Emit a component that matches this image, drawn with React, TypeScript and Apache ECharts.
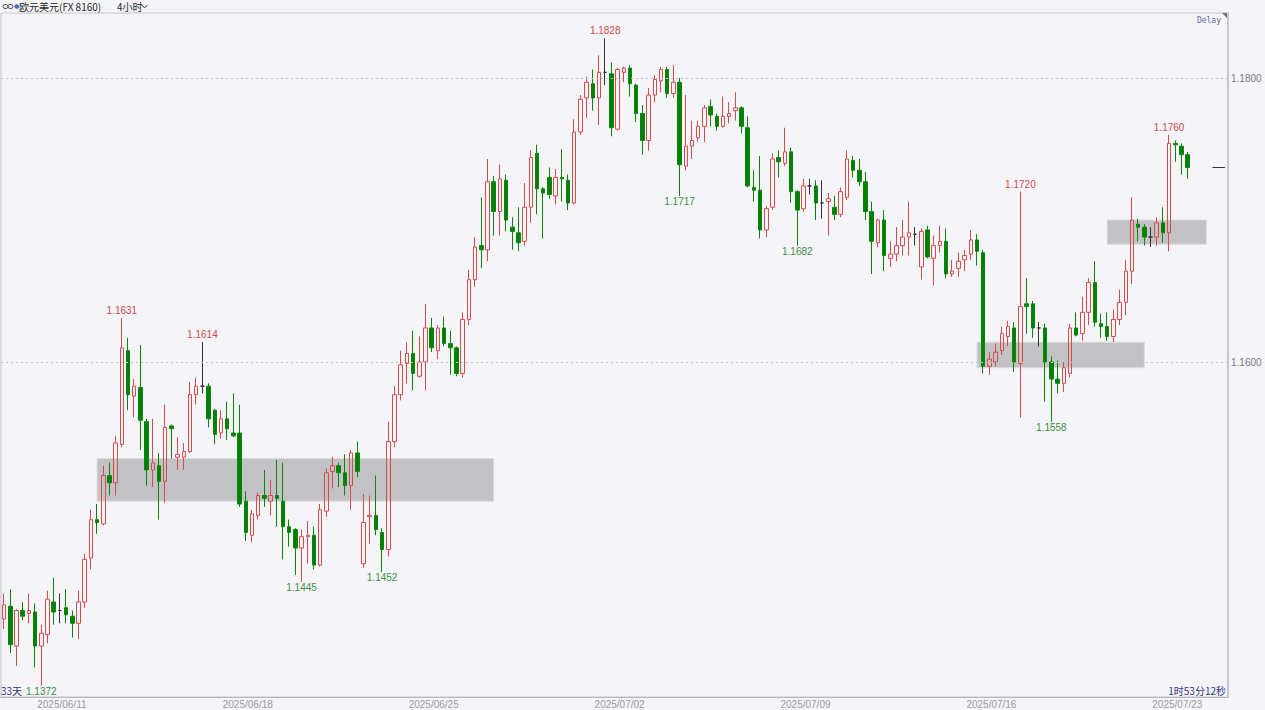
import React, { useEffect, useRef } from 'react';
import * as echarts from 'echarts';

// ---- OHLC values (EUR/USD, 4-hour bars) ----
const opens = [
  1.1419, 1.1428, 1.1400, 1.1425, 1.1423, 1.1424, 1.1400, 1.1408, 1.1431, 1.1425, 1.1427, 1.1421,
  1.1416, 1.1431, 1.1462, 1.1489, 1.1486, 1.1520, 1.1515, 1.1542, 1.1608, 1.1576, 1.1582, 1.1558,
  1.1524, 1.1527, 1.1516, 1.1555, 1.1533, 1.1533, 1.1537, 1.1577, 1.1583, 1.1583, 1.1566, 1.1550,
  1.1560, 1.1550, 1.1550, 1.1502, 1.1478, 1.1492, 1.1506, 1.1502, 1.1506, 1.1502, 1.1484, 1.1482,
  1.1469, 1.1477, 1.1478, 1.1457, 1.1495, 1.1523, 1.1527, 1.1522, 1.1513, 1.1536, 1.1458, 1.1491,
  1.1492, 1.1480, 1.1468, 1.1544, 1.1577, 1.1599, 1.1606, 1.1590, 1.1600, 1.1624, 1.1608, 1.1624,
  1.1613, 1.1610, 1.1592, 1.1630, 1.1658, 1.1682, 1.1679, 1.1727, 1.1706, 1.1728, 1.1695, 1.1691,
  1.1685, 1.1709, 1.1747, 1.1722, 1.1730, 1.1717, 1.1730, 1.1728, 1.1712, 1.1762, 1.1786, 1.1796,
  1.1786, 1.1804, 1.1803, 1.1764, 1.1804, 1.1807, 1.1795, 1.1775, 1.1756, 1.1788, 1.1798, 1.1806,
  1.1789, 1.1797, 1.1738, 1.1752, 1.1758, 1.1766, 1.1780, 1.1773, 1.1766, 1.1773, 1.1777, 1.1779,
  1.1765, 1.1723, 1.1721, 1.1693, 1.1709, 1.1744, 1.1740, 1.1748, 1.1720, 1.1708, 1.1724, 1.1724,
  1.1712, 1.1713, 1.1709, 1.1704, 1.1716, 1.1742, 1.1735, 1.1727, 1.1706, 1.1684, 1.1700, 1.1673,
  1.1676, 1.1682, 1.1688, 1.1690, 1.1667, 1.1693, 1.1673, 1.1682, 1.1685, 1.1662, 1.1666, 1.1672,
  1.1676, 1.1686, 1.1677, 1.1597, 1.1600, 1.1608, 1.1618, 1.1624, 1.1599, 1.1641, 1.1641, 1.1624,
  1.1624, 1.1600, 1.1588, 1.1585, 1.1592, 1.1624, 1.1620, 1.1635, 1.1656, 1.1627, 1.1625, 1.1618,
  1.1630, 1.1642, 1.1664, 1.1697, 1.1695, 1.1688, 1.1688, 1.1698, 1.1691, 1.1754, 1.1752, 1.1746,
];
const highs = [
  1.1437, 1.1440, 1.1426, 1.1431, 1.1437, 1.1430, 1.1415, 1.1439, 1.1448, 1.1437, 1.1440, 1.1425,
  1.1439, 1.1465, 1.1496, 1.1500, 1.1527, 1.1529, 1.1548, 1.1631, 1.1617, 1.1588, 1.1612, 1.1560,
  1.1560, 1.1536, 1.1570, 1.1556, 1.1547, 1.1543, 1.1586, 1.1589, 1.1614, 1.1585, 1.1567, 1.1566,
  1.1572, 1.1578, 1.1570, 1.1509, 1.1496, 1.1508, 1.1524, 1.1517, 1.1531, 1.1529, 1.1489, 1.1483,
  1.1482, 1.1488, 1.1484, 1.1500, 1.1525, 1.1533, 1.1529, 1.1535, 1.1538, 1.1544, 1.1507, 1.1506,
  1.1520, 1.1483, 1.1558, 1.1583, 1.1608, 1.1614, 1.1622, 1.1618, 1.1641, 1.1631, 1.1626, 1.1632,
  1.1622, 1.1611, 1.1635, 1.1665, 1.1688, 1.1716, 1.1743, 1.1731, 1.1739, 1.1732, 1.1702, 1.1709,
  1.1726, 1.1749, 1.1753, 1.1723, 1.1737, 1.1736, 1.1750, 1.1732, 1.1771, 1.1788, 1.1801, 1.1806,
  1.1816, 1.1828, 1.1811, 1.1807, 1.1808, 1.1809, 1.1796, 1.1781, 1.1793, 1.1802, 1.1808, 1.1808,
  1.1809, 1.1800, 1.1788, 1.1770, 1.1770, 1.1781, 1.1785, 1.1775, 1.1787, 1.1783, 1.1790, 1.1780,
  1.1773, 1.1735, 1.1745, 1.1710, 1.1747, 1.1749, 1.1765, 1.1751, 1.1721, 1.1729, 1.1729, 1.1728,
  1.1728, 1.1719, 1.1717, 1.1723, 1.1749, 1.1745, 1.1743, 1.1734, 1.1713, 1.1701, 1.1707, 1.1685,
  1.1695, 1.1700, 1.1713, 1.1695, 1.1694, 1.1696, 1.1689, 1.1696, 1.1694, 1.1672, 1.1677, 1.1679,
  1.1693, 1.1690, 1.1679, 1.1607, 1.1613, 1.1625, 1.1629, 1.1628, 1.1720, 1.1659, 1.1643, 1.1628,
  1.1627, 1.1604, 1.1601, 1.1600, 1.1627, 1.1635, 1.1646, 1.1659, 1.1671, 1.1634, 1.1635, 1.1637,
  1.1651, 1.1672, 1.1716, 1.1701, 1.1697, 1.1695, 1.1702, 1.1709, 1.1760, 1.1756, 1.1754, 1.1748,
];
const lows = [
  1.1412, 1.1395, 1.1386, 1.1418, 1.1416, 1.1385, 1.1372, 1.1402, 1.1415, 1.1416, 1.1416, 1.1406,
  1.1405, 1.1427, 1.1454, 1.1479, 1.1485, 1.1506, 1.1506, 1.1540, 1.1566, 1.1561, 1.1538, 1.1513,
  1.1512, 1.1489, 1.1501, 1.1532, 1.1524, 1.1524, 1.1536, 1.1570, 1.1578, 1.1554, 1.1542, 1.1546,
  1.1545, 1.1547, 1.1498, 1.1474, 1.1473, 1.1489, 1.1498, 1.1492, 1.1484, 1.1461, 1.1470, 1.1450,
  1.1445, 1.1458, 1.1454, 1.1456, 1.1491, 1.1511, 1.1512, 1.1506, 1.1496, 1.1519, 1.1455, 1.1472,
  1.1478, 1.1452, 1.1463, 1.1540, 1.1573, 1.1585, 1.1580, 1.1589, 1.1580, 1.1607, 1.1602, 1.1611,
  1.1591, 1.1590, 1.1589, 1.1626, 1.1653, 1.1666, 1.1671, 1.1689, 1.1689, 1.1692, 1.1679, 1.1678,
  1.1682, 1.1698, 1.1704, 1.1687, 1.1715, 1.1711, 1.1713, 1.1707, 1.1711, 1.1760, 1.1772, 1.1777,
  1.1767, 1.1795, 1.1759, 1.1763, 1.1797, 1.1787, 1.1769, 1.1746, 1.1749, 1.1783, 1.1790, 1.1786,
  1.1786, 1.1717, 1.1735, 1.1743, 1.1755, 1.1755, 1.1766, 1.1763, 1.1765, 1.1768, 1.1770, 1.1761,
  1.1723, 1.1713, 1.1687, 1.1688, 1.1707, 1.1730, 1.1738, 1.1712, 1.1682, 1.1706, 1.1718, 1.1700,
  1.1701, 1.1689, 1.1700, 1.1702, 1.1714, 1.1730, 1.1724, 1.1700, 1.1662, 1.1681, 1.1664, 1.1667,
  1.1671, 1.1675, 1.1675, 1.1682, 1.1658, 1.1673, 1.1654, 1.1677, 1.1659, 1.1660, 1.1660, 1.1664,
  1.1672, 1.1668, 1.1592, 1.1591, 1.1597, 1.1605, 1.1611, 1.1593, 1.1561, 1.1620, 1.1617, 1.1611,
  1.1572, 1.1558, 1.1578, 1.1579, 1.1589, 1.1618, 1.1615, 1.1626, 1.1625, 1.1617, 1.1615, 1.1614,
  1.1626, 1.1633, 1.1655, 1.1685, 1.1682, 1.1681, 1.1682, 1.1684, 1.1678, 1.1741, 1.1732, 1.1729,
];
const closes = [
  1.1429, 1.1401, 1.1425, 1.1421, 1.1425, 1.1400, 1.1409, 1.1433, 1.1424, 1.1425, 1.1422, 1.1416,
  1.1431, 1.1461, 1.1489, 1.1487, 1.1520, 1.1515, 1.1543, 1.1610, 1.1577, 1.1583, 1.1559, 1.1524,
  1.1529, 1.1516, 1.1554, 1.1553, 1.1535, 1.1537, 1.1577, 1.1583, 1.1583, 1.1560, 1.1549, 1.1560,
  1.1553, 1.1548, 1.1500, 1.1480, 1.1493, 1.1506, 1.1504, 1.1506, 1.1504, 1.1484, 1.1480, 1.1469,
  1.1477, 1.1478, 1.1457, 1.1496, 1.1522, 1.1527, 1.1522, 1.1513, 1.1536, 1.1523, 1.1487, 1.1492,
  1.1482, 1.1468, 1.1544, 1.1577, 1.1598, 1.1606, 1.1592, 1.1600, 1.1624, 1.1610, 1.1624, 1.1613,
  1.1610, 1.1592, 1.1630, 1.1658, 1.1681, 1.1679, 1.1727, 1.1706, 1.1729, 1.1700, 1.1692, 1.1684,
  1.1709, 1.1744, 1.1722, 1.1719, 1.1718, 1.1730, 1.1729, 1.1712, 1.1762, 1.1785, 1.1797, 1.1786,
  1.1804, 1.1804, 1.1765, 1.1806, 1.1807, 1.1796, 1.1775, 1.1756, 1.1788, 1.1799, 1.1806, 1.1789,
  1.1797, 1.1739, 1.1752, 1.1756, 1.1766, 1.1779, 1.1774, 1.1766, 1.1773, 1.1775, 1.1779, 1.1766,
  1.1724, 1.1721, 1.1693, 1.1708, 1.1743, 1.1741, 1.1748, 1.1720, 1.1707, 1.1724, 1.1724, 1.1712,
  1.1712, 1.1715, 1.1704, 1.1720, 1.1743, 1.1735, 1.1727, 1.1706, 1.1685, 1.1700, 1.1675, 1.1676,
  1.1682, 1.1688, 1.1691, 1.1690, 1.1692, 1.1674, 1.1682, 1.1685, 1.1662, 1.1664, 1.1671, 1.1675,
  1.1686, 1.1678, 1.1597, 1.1602, 1.1607, 1.1620, 1.1625, 1.1600, 1.1639, 1.1639, 1.1624, 1.1624,
  1.1600, 1.1588, 1.1585, 1.1596, 1.1624, 1.1619, 1.1635, 1.1656, 1.1628, 1.1625, 1.1618, 1.1630,
  1.1642, 1.1664, 1.1700, 1.1695, 1.1688, 1.1688, 1.1698, 1.1691, 1.1754, 1.1753, 1.1746, 1.1737,
];

// Date tick labels shown under the axis
const tickDates = ['2025/06/11', '2025/06/18', '2025/06/25', '2025/07/02', '2025/07/09', '2025/07/16', '2025/07/23'];
// Price labels / dashed grid lines on the right axis
const yLabelValues = [1.16, 1.18];
// Bars whose high / low is annotated
const highLabelIdx = [19, 32, 97, 164, 188];
const lowLabelIdx = [6, 48, 61, 109, 128, 169];
// Shaded zones: [first bar, last bar, upper price, lower price]
const zoneStart = [15, 157, 178];
const zoneEnd = [79, 184, 194];
const zoneTop = [1.1532, 1.1614, 1.17];
const zoneBottom = [1.1502, 1.1596, 1.1683];
// Empty bar slots to the right of the last candle
const EMPTY_SLOTS = 6;

function buildCategories(n: number): string[] {
  // 4-hour FX bars, Mon-Fri, 6 bars per day, first bar = Mon 2025/06/09 bar #3
  const start = Date.UTC(2025, 5, 9);
  const out: string[] = [];
  for (let k = 0; k < n; k++) {
    const s = k + 3;
    const day = Math.floor(s / 6);
    const bar = s % 6;
    const d = new Date(start + (Math.floor(day / 5) * 7 + (day % 5)) * 86400000);
    const mm = String(d.getUTCMonth() + 1).padStart(2, '0');
    const dd = String(d.getUTCDate()).padStart(2, '0');
    out.push(`${d.getUTCFullYear()}/${mm}/${dd} ${String(bar * 4).padStart(2, '0')}:00`);
  }
  return out;
}

const NUM_FONT = '"Liberation Sans", Arial, sans-serif';
const CJK_FONT = '"Noto Sans CJK SC", "Noto Sans", sans-serif';

export default function App() {
  const ref = useRef<HTMLDivElement>(null);

  useEffect(() => {
    if (!ref.current) return;
    const chart = echarts.init(ref.current, undefined, { renderer: 'svg' });
    const categories = buildCategories(opens.length + EMPTY_SLOTS);
    const candles = opens.map((o, i) => [o, closes[i], lows[i], highs[i]]);
    const last = closes[closes.length - 1];
    const nCat = categories.length;

    const markPointData = [
      ...highLabelIdx.map((i) => ({
        coord: [i, highs[i]],
        value: highs[i],
        label: { position: 'top', distance: 2, color: '#cf4a4a' },
      })),
      ...lowLabelIdx.map((i) => ({
        coord: [i, lows[i]],
        value: lows[i],
        label: { position: 'bottom', distance: 0, color: '#3f8f3f' },
      })),
    ];

    const gridDash = { color: '#c4c4c8', type: [2, 3], width: 1 };

    chart.setOption({
      animation: false,
      backgroundColor: '#f4f4f9',
      grid: {
        left: 1,
        right: 37,
        top: 13,
        bottom: 13,
        show: true,
        borderColor: '#c4c4c8',
        borderWidth: 1,
        backgroundColor: 'transparent',
      },
      xAxis: {
        type: 'category',
        data: categories,
        boundaryGap: true,
        axisLine: { show: true, lineStyle: { color: '#b8b8bc' } },
        axisTick: { show: false },
        splitLine: { show: false },
        axisLabel: {
          interval: (_i: number, v: string) => v.endsWith(' 00:00') && tickDates.includes(v.slice(0, 10)),
          formatter: (v: string) => v.slice(0, 10),
          color: '#9a9a9e',
          fontSize: 10,
          fontFamily: NUM_FONT,
          margin: 2,
          padding: [0, 0, 0, 4],
        },
      },
      yAxis: {
        type: 'value',
        position: 'right',
        min: 1.13641,
        max: 1.18458,
        splitLine: { show: false },
        axisLine: { show: true, lineStyle: { color: '#c8c8cc', width: 2 } },
        axisTick: { show: false },
        axisLabel: {
          customValues: yLabelValues,
          formatter: (v: number) =>
            yLabelValues.some((t) => Math.abs(t - v) < 1e-7) ? v.toFixed(4) : '',
          color: '#7a7a7e',
          fontSize: 10,
          fontFamily: NUM_FONT,
          margin: 3,
        },
      },
      series: [
        {
          type: 'candlestick',
          data: candles,
          barWidth: 4,
          z: 3,
          itemStyle: {
            color: 'transparent',
            color0: '#008000',
            borderColor: '#d64b4b',
            borderColor0: '#0a850a',
            borderColorDoji: '#333333',
            borderWidth: 1,
          },
          markArea: {
            silent: true,
            z: 1,
            itemStyle: { color: '#c2c2c4', borderColor: '#dcdcdf', borderWidth: 1 },
            data: zoneStart.map((s, k) => [
              { coord: [s, zoneTop[k]] },
              { coord: [zoneEnd[k], zoneBottom[k]] },
            ]),
          },
          markLine: {
            silent: true,
            symbol: ['none', 'none'],
            label: { show: false },
            lineStyle: gridDash,
            data: [
              ...yLabelValues.map((v) => ({ yAxis: v, lineStyle: gridDash })),
              [
                { coord: [nCat - 3, last], lineStyle: { color: '#333', type: 'solid', width: 1 } },
                { coord: [nCat - 1, last] },
              ],
            ],
          },
          markPoint: {
            silent: true,
            symbol: 'circle',
            symbolSize: 1,
            itemStyle: { color: 'transparent' },
            label: {
              show: true,
              fontSize: 10,
              fontFamily: NUM_FONT,
              formatter: (p: any) => Number(p.value).toFixed(4),
            },
            data: markPointData,
          },
        },
      ],
      graphic: [
        { type: 'rect', shape: { x: 3, y: 4.5, width: 5, height: 4, r: 2 }, style: { fill: 'none', stroke: '#555', lineWidth: 1 } },
        { type: 'rect', shape: { x: 8, y: 4.5, width: 5, height: 4, r: 2 }, style: { fill: 'none', stroke: '#555', lineWidth: 1 } },
        { type: 'circle', shape: { cx: 16.8, cy: 6.6, r: 2.3 }, style: { fill: '#3b6fd6' } },
        {
          type: 'text', x: 19, y: 6.7,
          style: { text: '欧元美元(FX 8160)', font: `10px ${CJK_FONT}`, fill: '#2a2a2a', verticalAlign: 'middle' },
        },
        {
          type: 'text', x: 117, y: 6.7,
          style: { text: '4小时', font: `10px ${CJK_FONT}`, fill: '#2a2a2a', verticalAlign: 'middle' },
        },
        { type: 'polyline', shape: { points: [[141.5, 4.8], [144.5, 8], [147.5, 4.8]] }, style: { stroke: '#333', lineWidth: 1, fill: 'none' } },
        {
          type: 'text', x: 1221, y: 20,
          style: { text: 'Delay', font: '8px "DejaVu Sans Mono", monospace', fill: '#5b6c9c', align: 'right', verticalAlign: 'middle' },
        },
        { type: 'polygon', shape: { points: [[1222, 13], [1228, 13], [1228, 19]] }, style: { fill: '#707074' } },
        {
          type: 'text', x: 1, y: 690.5,
          style: { text: '33天', font: `10px ${CJK_FONT}`, fill: '#34347a', verticalAlign: 'middle' },
        },
        {
          type: 'text', x: 1226, y: 690.5,
          style: { text: '1时53分12秒', font: `10px ${CJK_FONT}`, fill: '#34347a', align: 'right', verticalAlign: 'middle' },
        },
      ],
    });

    return () => chart.dispose();
  }, []);

  return (
    <div
      ref={ref}
      style={{ position: 'fixed', left: 0, top: 0, width: 1265, height: 710, background: '#f4f4f9' }}
    />
  );
}
